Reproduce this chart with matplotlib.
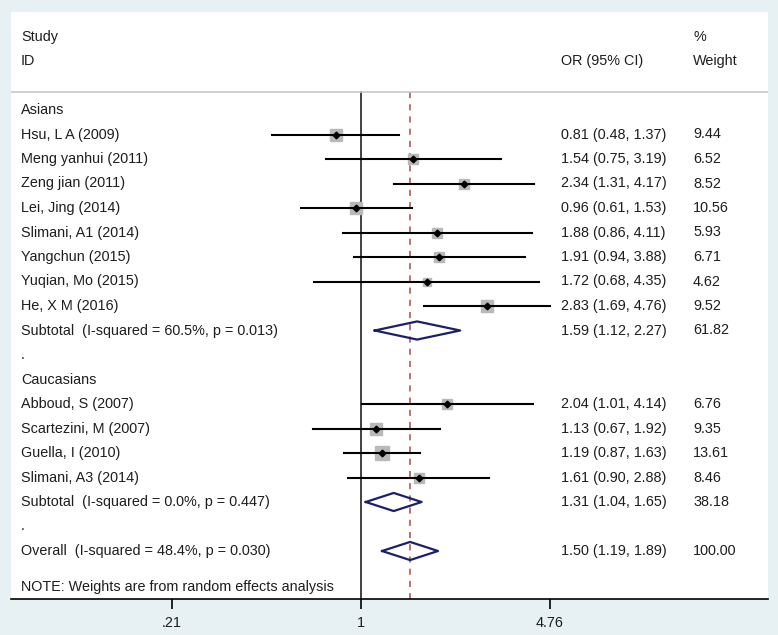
import matplotlib.pyplot as plt
import numpy as np

# study rows: label, OR, lower, upper, weight
asian_labels = ["Hsu, L A (2009)", "Meng yanhui (2011)", "Zeng jian (2011)",
                "Lei, Jing (2014)", "Slimani, A1 (2014)", "Yangchun (2015)",
                "Yuqian, Mo (2015)", "He, X M (2016)"]
asian_or = [0.81, 1.54, 2.34, 0.96, 1.88, 1.91, 1.72, 2.83]
asian_lo = [0.48, 0.75, 1.31, 0.61, 0.86, 0.94, 0.68, 1.69]
asian_hi = [1.37, 3.19, 4.17, 1.53, 4.11, 3.88, 4.35, 4.76]
asian_w = [9.44, 6.52, 8.52, 10.56, 5.93, 6.71, 4.62, 9.52]

cauc_labels = ["Abboud, S (2007)", "Scartezini, M (2007)", "Guella, I (2010)",
               "Slimani, A3 (2014)"]
cauc_or = [2.04, 1.13, 1.19, 1.61]
cauc_lo = [1.01, 0.67, 0.87, 0.90]
cauc_hi = [4.14, 1.92, 1.63, 2.88]
cauc_w = [6.76, 9.35, 13.61, 8.46]

# pooled estimates: subtotal Asians, subtotal Caucasians, overall
pooled_labels = ["Subtotal  (I-squared = 60.5%, p = 0.013)",
                 "Subtotal  (I-squared = 0.0%, p = 0.447)",
                 "Overall  (I-squared = 48.4%, p = 0.030)"]
pooled_or = [1.59, 1.31, 1.50]
pooled_lo = [1.12, 1.04, 1.19]
pooled_hi = [2.27, 1.65, 1.89]
pooled_w = [61.82, 38.18, 100.00]

xticks = [0.21, 1, 4.76]
xtick_labels = [".21", "1", "4.76"]

plt.rcParams["font.family"] = ["Liberation Sans", "DejaVu Sans"]
fs = 10.4
tc = "#1e1e1e"

W, H = 778, 635
fig = plt.figure(figsize=(W / 100, H / 100), dpi=100, facecolor="#e7f0f2")
left_px, right_px, top_px, bot_px = 11, 768, 12, 599
ax = fig.add_axes([left_px / W, 1 - bot_px / H,
                   (right_px - left_px) / W, (bot_px - top_px) / H])
ax.set_facecolor("white")

# x in log scale: 1 at pixel 361, 121 px per log unit
px_unit = 121.0
x_one = 361.0
ax.set_xscale("log")
ax.set_xlim(np.exp((left_px - x_one) / px_unit), np.exp((right_px - x_one) / px_unit))

row0, row_h = 110.0, 24.5
ymin = (top_px - row0) / row_h
ymax = (bot_px - row0) / row_h
ax.set_ylim(ymax, ymin)

tx = ax.get_yaxis_transform()  # x in axes coords, y in data


def xa(px):
    return (px - left_px) / (right_px - left_px)


col_or = xa(561)
col_w = xa(693)
col_lab = xa(21)


def txt(x, y, s):
    ax.text(x, y, s, transform=tx, va="center", fontsize=fs, color=tc)


# header
txt(col_lab, (37 - row0) / row_h, "Study")
txt(col_lab, (61 - row0) / row_h, "ID")
txt(col_or, (61 - row0) / row_h, "OR (95% CI)")
txt(col_w, (37 - row0) / row_h, "%")
txt(col_w, (61 - row0) / row_h, "Weight")
header_y = (92 - row0) / row_h
ax.axhline(header_y, color="#c8c8c8", lw=1.2)

# reference lines
ax.plot([1, 1], [header_y, ymax], color="#333333", lw=1.3, zorder=1)
ax.plot([pooled_or[2]] * 2, [header_y, ymax], color="#a0504c", lw=1.1,
        ls=(0, (4, 4)), zorder=1)


def study_row(y, label, est, lo, hi, w):
    txt(col_lab, y, label)
    ax.plot([lo, hi], [y, y], color="black", lw=1.5, zorder=3)
    side = 3.7 * np.sqrt(w) / 1.389
    ax.plot(est, y, marker="s", ms=side, color="#b9b9b9", mec="#b9b9b9", zorder=2)
    ax.plot(est, y, marker="D", ms=3.4, color="black", zorder=4)
    txt(col_or, y, f"{est:.2f} ({lo:.2f}, {hi:.2f})")
    txt(col_w, y, f"{w:.2f}")


def pooled_row(y, label, est, lo, hi, w):
    txt(col_lab, y, label)
    hh = 0.37
    ax.plot([lo, est, hi, est, lo], [y, y - hh, y, y + hh, y],
            color="#1c1f6a", lw=1.6, zorder=3)
    txt(col_or, y, f"{est:.2f} ({lo:.2f}, {hi:.2f})")
    txt(col_w, y, f"{w:.2f}")


y = 0
txt(col_lab, y, "Asians")
for i in range(len(asian_labels)):
    y += 1
    study_row(y, asian_labels[i], asian_or[i], asian_lo[i], asian_hi[i], asian_w[i])
y += 1
pooled_row(y, pooled_labels[0], pooled_or[0], pooled_lo[0], pooled_hi[0], pooled_w[0])
y += 1
txt(col_lab, y, ".")
y += 1
txt(col_lab, y, "Caucasians")
for i in range(len(cauc_labels)):
    y += 1
    study_row(y, cauc_labels[i], cauc_or[i], cauc_lo[i], cauc_hi[i], cauc_w[i])
y += 1
pooled_row(y, pooled_labels[1], pooled_or[1], pooled_lo[1], pooled_hi[1], pooled_w[1])
y += 1
txt(col_lab, y, ".")
y += 1
pooled_row(y, pooled_labels[2], pooled_or[2], pooled_lo[2], pooled_hi[2], pooled_w[2])
txt(col_lab, (587 - row0) / row_h, "NOTE: Weights are from random effects analysis")

# axes decoration
for s in ["top", "left", "right"]:
    ax.spines[s].set_visible(False)
ax.spines["bottom"].set_color("black")
ax.spines["bottom"].set_linewidth(1.2)
ax.set_yticks([])
ax.set_xticks(xticks)
ax.set_xticklabels(xtick_labels, fontsize=fs, color=tc)
ax.xaxis.set_minor_locator(plt.NullLocator())
ax.tick_params(axis="x", length=7, width=1.2, pad=5)

fig.savefig("out.png", dpi=100, facecolor=fig.get_facecolor())
